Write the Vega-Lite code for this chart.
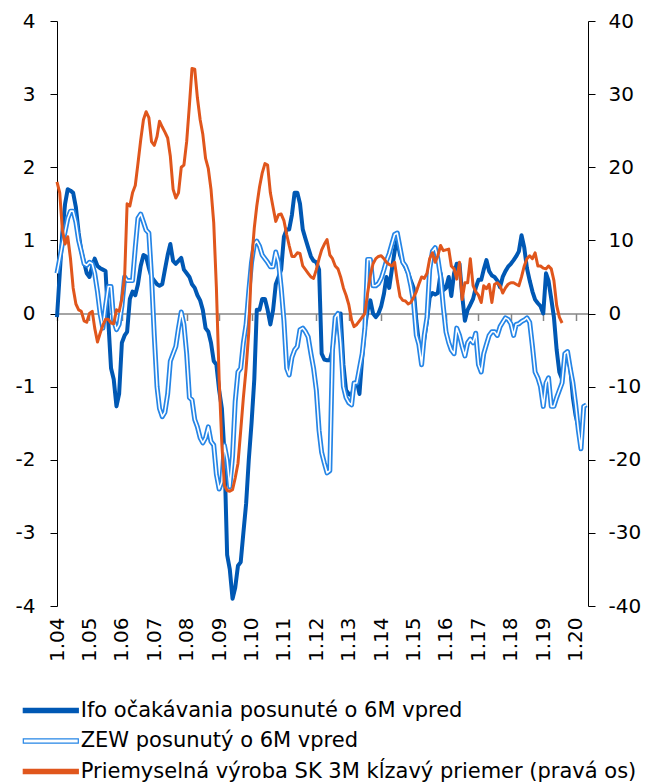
{
  "$schema": "https://vega.github.io/schema/vega-lite/v6.json",
  "width": 531,
  "height": 585,
  "autosize": {"type": "none"},
  "padding": {"left": 57, "top": 21, "right": 67, "bottom": 178},
  "background": "white",
  "config": {
    "view": {"stroke": null},
    "font": "DejaVu Sans",
    "axis": {"grid": false, "labelFont": "DejaVu Sans", "labelFontSize": 20, "labelColor": "#000000"}
  },
  "data": {"values": [
    {"d":"2004-01-01","ifo":-0.05,"zew":0.55,"ip":18.0},
    {"d":"2004-02-01","ifo":0.55,"zew":0.75,"ip":16.5},
    {"d":"2004-03-01","ifo":1.1,"zew":0.95,"ip":11.5},
    {"d":"2004-04-01","ifo":1.5,"zew":1.12,"ip":9.5},
    {"d":"2004-05-01","ifo":1.7,"zew":1.3,"ip":10.5},
    {"d":"2004-06-01","ifo":1.68,"zew":1.4,"ip":7.5},
    {"d":"2004-07-01","ifo":1.65,"zew":1.4,"ip":3.5},
    {"d":"2004-08-01","ifo":1.45,"zew":1.25,"ip":1.3},
    {"d":"2004-09-01","ifo":1.1,"zew":1.0,"ip":0.5},
    {"d":"2004-10-01","ifo":0.85,"zew":0.85,"ip":0.3},
    {"d":"2004-11-01","ifo":0.7,"zew":0.68,"ip":-1.0},
    {"d":"2004-12-01","ifo":0.55,"zew":0.66,"ip":-1.2},
    {"d":"2005-01-01","ifo":0.5,"zew":0.7,"ip":0.0},
    {"d":"2005-02-01","ifo":0.65,"zew":0.68,"ip":0.3},
    {"d":"2005-03-01","ifo":0.75,"zew":0.55,"ip":-2.0},
    {"d":"2005-04-01","ifo":0.65,"zew":0.3,"ip":-3.9},
    {"d":"2005-05-01","ifo":0.62,"zew":0.0,"ip":-2.7},
    {"d":"2005-06-01","ifo":0.6,"zew":-0.2,"ip":-1.6},
    {"d":"2005-07-01","ifo":0.58,"zew":0.1,"ip":-0.8},
    {"d":"2005-08-01","ifo":-0.1,"zew":0.37,"ip":-0.8},
    {"d":"2005-09-01","ifo":-0.75,"zew":0.37,"ip":-1.3},
    {"d":"2005-10-01","ifo":-0.9,"zew":-0.1,"ip":-1.4},
    {"d":"2005-11-01","ifo":-1.27,"zew":-0.22,"ip":0.5},
    {"d":"2005-12-01","ifo":-1.1,"zew":-0.15,"ip":0.3},
    {"d":"2006-01-01","ifo":-0.4,"zew":0.1,"ip":2.0},
    {"d":"2006-02-01","ifo":-0.3,"zew":0.5,"ip":5.0},
    {"d":"2006-03-01","ifo":-0.25,"zew":0.45,"ip":15.0},
    {"d":"2006-04-01","ifo":0.2,"zew":0.45,"ip":14.7},
    {"d":"2006-05-01","ifo":0.3,"zew":0.45,"ip":16.5},
    {"d":"2006-06-01","ifo":0.25,"zew":0.9,"ip":17.5},
    {"d":"2006-07-01","ifo":0.4,"zew":1.3,"ip":20.5},
    {"d":"2006-08-01","ifo":0.65,"zew":1.36,"ip":23.7},
    {"d":"2006-09-01","ifo":0.8,"zew":1.25,"ip":26.5},
    {"d":"2006-10-01","ifo":0.78,"zew":1.14,"ip":27.6},
    {"d":"2006-11-01","ifo":0.62,"zew":1.1,"ip":26.8},
    {"d":"2006-12-01","ifo":0.5,"zew":0.5,"ip":23.5},
    {"d":"2007-01-01","ifo":0.45,"zew":-0.3,"ip":23.0},
    {"d":"2007-02-01","ifo":0.4,"zew":-1.0,"ip":24.2},
    {"d":"2007-03-01","ifo":0.38,"zew":-1.3,"ip":26.3},
    {"d":"2007-04-01","ifo":0.4,"zew":-1.41,"ip":25.5},
    {"d":"2007-05-01","ifo":0.6,"zew":-1.35,"ip":24.8},
    {"d":"2007-06-01","ifo":0.8,"zew":-1.1,"ip":24.0},
    {"d":"2007-07-01","ifo":0.95,"zew":-0.65,"ip":21.5},
    {"d":"2007-08-01","ifo":0.72,"zew":-0.55,"ip":17.0},
    {"d":"2007-09-01","ifo":0.68,"zew":-0.45,"ip":15.8},
    {"d":"2007-10-01","ifo":0.72,"zew":-0.2,"ip":16.5},
    {"d":"2007-11-01","ifo":0.76,"zew":0.02,"ip":20.0},
    {"d":"2007-12-01","ifo":0.6,"zew":-0.15,"ip":20.3},
    {"d":"2008-01-01","ifo":0.55,"zew":-0.55,"ip":23.5},
    {"d":"2008-02-01","ifo":0.5,"zew":-1.15,"ip":28.5},
    {"d":"2008-03-01","ifo":0.4,"zew":-1.18,"ip":33.5},
    {"d":"2008-04-01","ifo":0.35,"zew":-1.45,"ip":33.4},
    {"d":"2008-05-01","ifo":0.25,"zew":-1.55,"ip":29.5},
    {"d":"2008-06-01","ifo":0.18,"zew":-1.7,"ip":26.5},
    {"d":"2008-07-01","ifo":0.05,"zew":-1.77,"ip":24.5},
    {"d":"2008-08-01","ifo":-0.2,"zew":-1.7,"ip":21.2},
    {"d":"2008-09-01","ifo":-0.25,"zew":-1.55,"ip":19.8},
    {"d":"2008-10-01","ifo":-0.4,"zew":-1.75,"ip":17.0},
    {"d":"2008-11-01","ifo":-0.65,"zew":-1.8,"ip":12.4},
    {"d":"2008-12-01","ifo":-0.7,"zew":-2.2,"ip":3.5},
    {"d":"2009-01-01","ifo":-1.05,"zew":-2.4,"ip":-9.0},
    {"d":"2009-02-01","ifo":-1.3,"zew":-2.3,"ip":-18.0},
    {"d":"2009-03-01","ifo":-1.9,"zew":-1.8,"ip":-23.5},
    {"d":"2009-04-01","ifo":-3.3,"zew":-2.0,"ip":-24.2},
    {"d":"2009-05-01","ifo":-3.5,"zew":-2.37,"ip":-24.3},
    {"d":"2009-06-01","ifo":-3.9,"zew":-1.95,"ip":-24.1},
    {"d":"2009-07-01","ifo":-3.75,"zew":-1.2,"ip":-22.5},
    {"d":"2009-08-01","ifo":-3.45,"zew":-0.8,"ip":-20.5},
    {"d":"2009-09-01","ifo":-3.4,"zew":-0.75,"ip":-16.0},
    {"d":"2009-10-01","ifo":-3.0,"zew":-0.4,"ip":-11.5},
    {"d":"2009-11-01","ifo":-2.6,"zew":-0.15,"ip":-7.5},
    {"d":"2009-12-01","ifo":-2.0,"zew":0.3,"ip":-2.5},
    {"d":"2010-01-01","ifo":-1.5,"zew":0.7,"ip":7.0},
    {"d":"2010-02-01","ifo":-0.9,"zew":0.95,"ip":11.7},
    {"d":"2010-03-01","ifo":0.05,"zew":0.99,"ip":14.7},
    {"d":"2010-04-01","ifo":0.05,"zew":0.92,"ip":17.3},
    {"d":"2010-05-01","ifo":0.2,"zew":0.8,"ip":19.2},
    {"d":"2010-06-01","ifo":0.2,"zew":0.75,"ip":20.5},
    {"d":"2010-07-01","ifo":0.05,"zew":0.7,"ip":20.3},
    {"d":"2010-08-01","ifo":-0.15,"zew":0.64,"ip":16.5},
    {"d":"2010-09-01","ifo":0.05,"zew":0.64,"ip":14.5},
    {"d":"2010-10-01","ifo":0.4,"zew":0.84,"ip":12.6},
    {"d":"2010-11-01","ifo":0.5,"zew":0.7,"ip":13.5},
    {"d":"2010-12-01","ifo":0.6,"zew":0.35,"ip":13.6},
    {"d":"2011-01-01","ifo":1.05,"zew":-0.1,"ip":12.7},
    {"d":"2011-02-01","ifo":1.15,"zew":-0.75,"ip":10.8},
    {"d":"2011-03-01","ifo":1.15,"zew":-0.84,"ip":9.3},
    {"d":"2011-04-01","ifo":1.35,"zew":-0.6,"ip":7.8},
    {"d":"2011-05-01","ifo":1.65,"zew":-0.5,"ip":7.8},
    {"d":"2011-06-01","ifo":1.65,"zew":-0.45,"ip":8.3},
    {"d":"2011-07-01","ifo":1.5,"zew":-0.22,"ip":8.2},
    {"d":"2011-08-01","ifo":1.15,"zew":-0.2,"ip":6.5},
    {"d":"2011-09-01","ifo":1.02,"zew":-0.25,"ip":6.0},
    {"d":"2011-10-01","ifo":0.9,"zew":-0.32,"ip":5.5},
    {"d":"2011-11-01","ifo":0.78,"zew":-0.55,"ip":5.0},
    {"d":"2011-12-01","ifo":0.72,"zew":-0.75,"ip":4.8},
    {"d":"2012-01-01","ifo":0.7,"zew":-1.05,"ip":6.0},
    {"d":"2012-02-01","ifo":0.6,"zew":-1.6,"ip":7.5},
    {"d":"2012-03-01","ifo":-0.55,"zew":-1.9,"ip":8.7},
    {"d":"2012-04-01","ifo":-0.63,"zew":-2.05,"ip":9.5},
    {"d":"2012-05-01","ifo":-0.64,"zew":-2.18,"ip":10.1},
    {"d":"2012-06-01","ifo":-0.64,"zew":-2.15,"ip":8.0},
    {"d":"2012-07-01","ifo":-0.5,"zew":-0.5,"ip":7.5},
    {"d":"2012-08-01","ifo":-0.15,"zew":-0.05,"ip":6.5},
    {"d":"2012-09-01","ifo":-0.02,"zew":0.0,"ip":6.1},
    {"d":"2012-10-01","ifo":0.0,"zew":-0.4,"ip":5.0},
    {"d":"2012-11-01","ifo":-0.7,"zew":-1.0,"ip":3.5},
    {"d":"2012-12-01","ifo":-1.05,"zew":-1.15,"ip":2.5},
    {"d":"2013-01-01","ifo":-1.1,"zew":-1.22,"ip":1.2},
    {"d":"2013-02-01","ifo":-1.12,"zew":-1.25,"ip":-0.9},
    {"d":"2013-03-01","ifo":-1.0,"zew":-0.95,"ip":-1.8},
    {"d":"2013-04-01","ifo":-0.92,"zew":-0.95,"ip":-1.5},
    {"d":"2013-05-01","ifo":-1.1,"zew":-0.75,"ip":-1.0},
    {"d":"2013-06-01","ifo":-0.6,"zew":-0.55,"ip":-0.5},
    {"d":"2013-07-01","ifo":-0.2,"zew":-0.2,"ip":0.0},
    {"d":"2013-08-01","ifo":0.05,"zew":0.74,"ip":2.8},
    {"d":"2013-09-01","ifo":0.18,"zew":0.74,"ip":5.2},
    {"d":"2013-10-01","ifo":0.0,"zew":0.38,"ip":6.8},
    {"d":"2013-11-01","ifo":-0.05,"zew":0.38,"ip":7.5},
    {"d":"2013-12-01","ifo":0.0,"zew":0.41,"ip":7.8},
    {"d":"2014-01-01","ifo":0.1,"zew":0.48,"ip":7.9},
    {"d":"2014-02-01","ifo":0.27,"zew":0.6,"ip":7.5},
    {"d":"2014-03-01","ifo":0.5,"zew":0.72,"ip":7.0},
    {"d":"2014-04-01","ifo":0.35,"zew":0.82,"ip":6.7},
    {"d":"2014-05-01","ifo":0.6,"zew":0.95,"ip":6.5},
    {"d":"2014-06-01","ifo":0.85,"zew":1.08,"ip":7.0},
    {"d":"2014-07-01","ifo":1.0,"zew":1.1,"ip":4.5},
    {"d":"2014-08-01","ifo":0.8,"zew":0.9,"ip":2.3},
    {"d":"2014-09-01","ifo":0.7,"zew":0.7,"ip":1.8},
    {"d":"2014-10-01","ifo":0.63,"zew":0.65,"ip":1.7},
    {"d":"2014-11-01","ifo":0.55,"zew":0.55,"ip":1.3},
    {"d":"2014-12-01","ifo":0.45,"zew":0.38,"ip":1.5},
    {"d":"2015-01-01","ifo":0.35,"zew":0.15,"ip":2.2},
    {"d":"2015-02-01","ifo":-0.1,"zew":-0.3,"ip":3.0},
    {"d":"2015-03-01","ifo":-0.4,"zew":-0.42,"ip":4.0},
    {"d":"2015-04-01","ifo":-0.54,"zew":-0.7,"ip":5.0},
    {"d":"2015-05-01","ifo":-0.35,"zew":-0.3,"ip":4.8},
    {"d":"2015-06-01","ifo":-0.1,"zew":-0.05,"ip":5.5},
    {"d":"2015-07-01","ifo":0.22,"zew":0.6,"ip":7.5},
    {"d":"2015-08-01","ifo":0.28,"zew":0.85,"ip":8.3},
    {"d":"2015-09-01","ifo":0.26,"zew":0.9,"ip":7.0},
    {"d":"2015-10-01","ifo":0.28,"zew":0.75,"ip":7.9},
    {"d":"2015-11-01","ifo":0.55,"zew":0.5,"ip":9.3},
    {"d":"2015-12-01","ifo":0.32,"zew":0.1,"ip":8.6},
    {"d":"2016-01-01","ifo":0.35,"zew":-0.25,"ip":8.7},
    {"d":"2016-02-01","ifo":0.5,"zew":-0.4,"ip":8.8},
    {"d":"2016-03-01","ifo":0.24,"zew":-0.5,"ip":6.5},
    {"d":"2016-04-01","ifo":0.55,"zew":-0.55,"ip":6.1},
    {"d":"2016-05-01","ifo":0.68,"zew":-0.2,"ip":4.7},
    {"d":"2016-06-01","ifo":0.68,"zew":-0.3,"ip":7.0},
    {"d":"2016-07-01","ifo":0.25,"zew":-0.45,"ip":1.9},
    {"d":"2016-08-01","ifo":-0.1,"zew":-0.58,"ip":4.2},
    {"d":"2016-09-01","ifo":0.05,"zew":-0.4,"ip":4.2},
    {"d":"2016-10-01","ifo":0.12,"zew":-0.35,"ip":7.5},
    {"d":"2016-11-01","ifo":0.2,"zew":-0.4,"ip":3.8},
    {"d":"2016-12-01","ifo":0.35,"zew":-0.27,"ip":3.0},
    {"d":"2017-01-01","ifo":0.46,"zew":-0.7,"ip":2.5},
    {"d":"2017-02-01","ifo":0.46,"zew":-0.8,"ip":1.5},
    {"d":"2017-03-01","ifo":0.6,"zew":-0.55,"ip":3.8},
    {"d":"2017-04-01","ifo":0.73,"zew":-0.42,"ip":3.4},
    {"d":"2017-05-01","ifo":0.58,"zew":-0.3,"ip":4.0},
    {"d":"2017-06-01","ifo":0.52,"zew":-0.25,"ip":1.5},
    {"d":"2017-07-01","ifo":0.5,"zew":-0.25,"ip":4.0},
    {"d":"2017-08-01","ifo":0.45,"zew":-0.3,"ip":4.2},
    {"d":"2017-09-01","ifo":0.36,"zew":-0.18,"ip":3.8},
    {"d":"2017-10-01","ifo":0.5,"zew":-0.12,"ip":2.8},
    {"d":"2017-11-01","ifo":0.58,"zew":-0.06,"ip":3.5},
    {"d":"2017-12-01","ifo":0.64,"zew":-0.08,"ip":4.0},
    {"d":"2018-01-01","ifo":0.68,"zew":-0.14,"ip":4.2},
    {"d":"2018-02-01","ifo":0.73,"zew":-0.3,"ip":4.2},
    {"d":"2018-03-01","ifo":0.78,"zew":-0.15,"ip":4.0},
    {"d":"2018-04-01","ifo":0.85,"zew":-0.14,"ip":3.8},
    {"d":"2018-05-01","ifo":1.07,"zew":-0.11,"ip":5.0},
    {"d":"2018-06-01","ifo":0.9,"zew":-0.09,"ip":6.5},
    {"d":"2018-07-01","ifo":0.62,"zew":-0.06,"ip":7.5},
    {"d":"2018-08-01","ifo":0.45,"zew":-0.12,"ip":7.9},
    {"d":"2018-09-01","ifo":0.3,"zew":-0.45,"ip":7.5},
    {"d":"2018-10-01","ifo":0.19,"zew":-0.8,"ip":8.3},
    {"d":"2018-11-01","ifo":0.14,"zew":-0.88,"ip":6.5},
    {"d":"2018-12-01","ifo":0.1,"zew":-1.0,"ip":6.5},
    {"d":"2019-01-01","ifo":0.0,"zew":-1.27,"ip":6.2},
    {"d":"2019-02-01","ifo":0.55,"zew":-0.95,"ip":6.1},
    {"d":"2019-03-01","ifo":0.45,"zew":-0.88,"ip":6.5},
    {"d":"2019-04-01","ifo":0.2,"zew":-1.27,"ip":6.1},
    {"d":"2019-05-01","ifo":-0.05,"zew":-1.27,"ip":4.5},
    {"d":"2019-06-01","ifo":-0.5,"zew":-1.15,"ip":1.1},
    {"d":"2019-07-01","ifo":-0.8,"zew":-1.05,"ip":-0.5},
    {"d":"2019-08-01","ifo":-0.9,"zew":-0.95,"ip":-1.3},
    {"d":"2019-09-01","ifo":-0.64,"zew":-0.55},
    {"d":"2019-10-01","ifo":-0.6,"zew":-0.52},
    {"d":"2019-11-01","ifo":-0.75,"zew":-0.75},
    {"d":"2019-12-01","ifo":-1.15,"zew":-0.95},
    {"d":"2020-01-01","ifo":-1.4,"zew":-1.25},
    {"d":"2020-02-01","ifo":-1.55,"zew":-1.6},
    {"d":"2020-03-01","ifo":-1.62,"zew":-1.85},
    {"d":"2020-04-01","zew":-1.27},
    {"d":"2020-05-01","zew":-1.25}
  ]},
  "layer": [
    {
      "encoding": {
        "x": {
          "field": "d", "type": "temporal",
          "scale": {"domain": [{"year": 2004, "month": 1, "date": 1}, {"year": 2020, "month": 5, "date": 19}]},
          "axis": {
            "orient": "bottom", "title": null, "format": "%-m.%y", "labelAngle": -90,
            "domain": false, "ticks": false, "tickSize": 0, "labelPadding": 11, "labelOverlap": false,
            "values": [
              {"year": 2004, "month": 1, "date": 1}, {"year": 2005, "month": 1, "date": 1}, {"year": 2006, "month": 1, "date": 1},
              {"year": 2007, "month": 1, "date": 1}, {"year": 2008, "month": 1, "date": 1}, {"year": 2009, "month": 1, "date": 1},
              {"year": 2010, "month": 1, "date": 1}, {"year": 2011, "month": 1, "date": 1}, {"year": 2012, "month": 1, "date": 1},
              {"year": 2013, "month": 1, "date": 1}, {"year": 2014, "month": 1, "date": 1}, {"year": 2015, "month": 1, "date": 1},
              {"year": 2016, "month": 1, "date": 1}, {"year": 2017, "month": 1, "date": 1}, {"year": 2018, "month": 1, "date": 1},
              {"year": 2019, "month": 1, "date": 1}, {"year": 2020, "month": 1, "date": 1}
            ]
          }
        }
      },
      "layer": [
        {
          "mark": {"type": "line", "strokeWidth": 4, "strokeJoin": "round"},
          "encoding": {
            "y": {
              "field": "ifo", "type": "quantitative", "scale": {"domain": [-4, 4]},
              "axis": {"orient": "left", "title": null, "values": [-4, -3, -2, -1, 0, 1, 2, 3, 4],
                "labelExpr": "'' + datum.value", "domainColor": "#000000", "tickColor": "#000000",
                "tickSize": 7, "labelPadding": 15}
            },
            "color": {
              "datum": "Ifo očakávania posunuté o 6M vpred",
              "scale": {
                "domain": ["Ifo očakávania posunuté o 6M vpred", "ZEW posunutý o 6M vpred", "Priemyselná výroba SK 3M kĺzavý priemer (pravá os)"],
                "range": ["#0058B4", "#2585E6", "#E0561C"]
              },
              "legend": {
                "orient": "none", "legendX": -16.7, "legendY": 679, "direction": "vertical", "title": null,
                "labelFont": "DejaVu Sans", "labelFontSize": 21, "labelColor": "#000000", "labelLimit": 0,
                "symbolType": "M-3,-0.24H3V0.24H-3Z", "symbolSize": 336, "symbolStrokeWidth": 1.2,
                "labelOffset": 19.4, "rowPadding": 8.5, "padding": 0,
                "encode": {"symbols": {"update": {
                  "fill": {"signal": "datum.value === 'ZEW posunutý o 6M vpred' ? '#ffffff' : scale('color', datum.value)"},
                  "stroke": {"signal": "scale('color', datum.value)"},
                  "opacity": {"value": 1}
                }}}
              }
            }
          }
        },
        {
          "mark": {"type": "line", "strokeWidth": 5, "strokeJoin": "round"},
          "encoding": {
            "y": {"field": "zew", "type": "quantitative", "scale": {"domain": [-4, 4]}},
            "color": {"datum": "ZEW posunutý o 6M vpred"}
          }
        },
        {
          "mark": {"type": "line", "strokeWidth": 1.6, "strokeJoin": "round", "color": "#ffffff"},
          "encoding": {
            "y": {"field": "zew", "type": "quantitative", "scale": {"domain": [-4, 4]}}
          }
        }
      ]
    },
    {
      "mark": {"type": "line", "strokeWidth": 3, "strokeJoin": "round"},
      "encoding": {
        "x": {
          "field": "d", "type": "temporal",
          "axis": {
            "orient": "bottom", "offset": -292.5, "title": null, "labels": false,
            "domainColor": "#868686", "domainWidth": 1.5, "tickColor": "#868686", "tickWidth": 1.5, "tickSize": 7,
            "values": [
              {"year": 2004, "month": 1, "date": 1}, {"year": 2005, "month": 1, "date": 1}, {"year": 2006, "month": 1, "date": 1},
              {"year": 2007, "month": 1, "date": 1}, {"year": 2008, "month": 1, "date": 1}, {"year": 2009, "month": 1, "date": 1},
              {"year": 2010, "month": 1, "date": 1}, {"year": 2011, "month": 1, "date": 1}, {"year": 2012, "month": 1, "date": 1},
              {"year": 2013, "month": 1, "date": 1}, {"year": 2014, "month": 1, "date": 1}, {"year": 2015, "month": 1, "date": 1},
              {"year": 2016, "month": 1, "date": 1}, {"year": 2017, "month": 1, "date": 1}, {"year": 2018, "month": 1, "date": 1},
              {"year": 2019, "month": 1, "date": 1}, {"year": 2020, "month": 1, "date": 1}
            ]
          }
        },
        "y": {
          "field": "ip", "type": "quantitative", "scale": {"domain": [-40, 40]},
          "axis": {"orient": "right", "title": null, "values": [-40, -30, -20, -10, 0, 10, 20, 30, 40],
            "labelExpr": "'' + datum.value", "domainColor": "#000000", "tickColor": "#000000",
            "tickSize": 7, "labelPadding": 13}
        },
        "color": {"datum": "Priemyselná výroba SK 3M kĺzavý priemer (pravá os)"}
      }
    }
  ],
  "resolve": {"scale": {"y": "independent"}, "axis": {"x": "independent"}}
}
